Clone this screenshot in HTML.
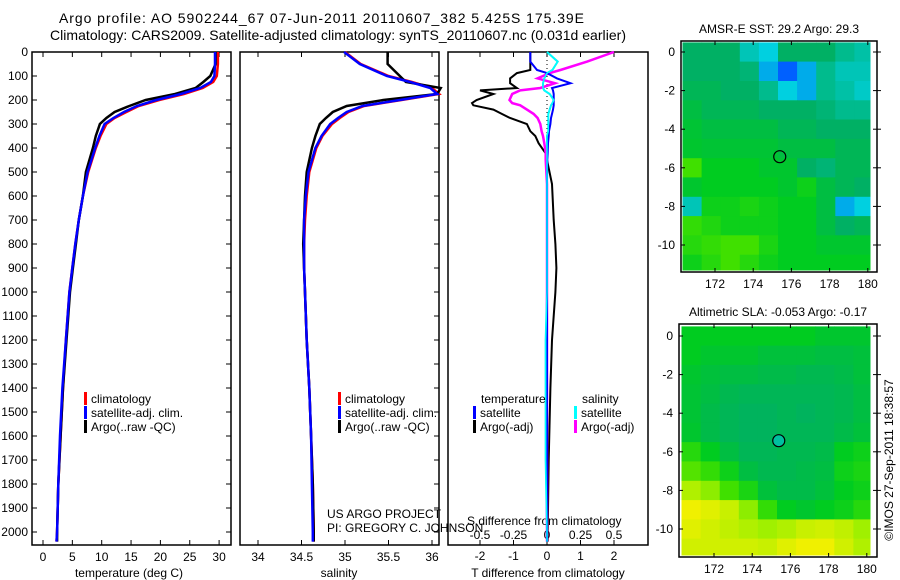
<!DOCTYPE html>
<html><head><meta charset="utf-8"><style>
html,body{margin:0;padding:0;background:#fff;}
svg{display:block;font-family:"Liberation Sans",sans-serif;}
</style></head><body>
<svg id="fig" width="900" height="580" viewBox="0 0 900 580" xmlns="http://www.w3.org/2000/svg">
<text x="59" y="23" font-size="14" textLength="525" lengthAdjust="spacing">Argo profile: AO 5902244_67 07-Jun-2011 20110607_382 5.425S 175.39E</text>
<text x="50" y="40" font-size="14" textLength="576" lengthAdjust="spacing">Climatology: CARS2009. Satellite-adjusted climatology: synTS_20110607.nc (0.031d earlier)</text>
<g id="g"></g>
</svg>
<script>
// ---- data ----
const depths   = [0,50,100,125,150,175,200,225,250,275,300,350,400,500,600,700,800,900,1000,1200,1400,1600,1800,2000,2040];
const tempClim = [29.8,29.8,29.6,29.0,27.2,24,19.8,16.3,14.2,12.2,10.8,9.8,9.0,7.7,6.8,6.1,5.5,5.0,4.5,3.9,3.4,3.0,2.6,2.4,2.3];
const tempSat  = [29.3,29.3,29.2,28.6,26.8,23.5,19.3,16.0,13.8,12.0,10.5,9.6,8.9,7.6,6.8,6.1,5.5,5.0,4.5,3.9,3.3,2.9,2.6,2.4,2.3];
const tempArgo = [29.4,29.4,28.5,27.3,26.0,22.5,17.5,14.7,12.2,10.8,9.7,9.0,8.5,7.3,6.8,6.1,5.6,5.1,4.6,4.0,3.4,3.0,2.6,2.4,2.4];
const salClim  = [35.0,35.18,35.5,35.77,36.0,36.08,35.65,35.22,35.04,34.94,34.85,34.74,34.67,34.59,34.56,34.54,34.53,34.53,34.54,34.56,34.59,34.61,34.63,34.64,34.64];
const salSat   = [34.99,35.17,35.48,35.75,35.98,36.06,35.63,35.2,35.02,34.92,34.83,34.73,34.66,34.58,34.55,34.53,34.53,34.53,34.54,34.56,34.59,34.61,34.62,34.63,34.63];
const salArgo  = [35.49,35.49,35.63,35.7,36.1,36.06,35.44,35.02,34.86,34.78,34.71,34.66,34.62,34.56,34.54,34.53,34.52,34.53,34.54,34.56,34.59,34.61,34.63,34.64,34.64];
const diffDepths = [0,40,75,88,110,130,150,160,175,200,213,222,240,258,275,300,330,350,380,420,450,550,700,800,900,1000,1200,1400,1700,2000,2040];
const dTempArgo = [-0.5,-0.5,-0.5,-0.9,-1.1,-1.1,-0.9,-2.0,-1.6,-2.1,-2.24,-2.2,-1.6,-1.35,-1.1,-0.6,-0.5,-0.35,-0.25,-0.05,0,0.15,0.2,0.25,0.28,0.25,0.15,0.1,0.05,0.02,0.02];
const dTempSat  = [-0.5,-0.5,-0.3,0,0.3,0.7,0.15,0.18,0.2,0.2,0.2,0.2,0.18,0.15,0.12,0.1,0.06,0.05,0.03,0.02,0.01,0,0,0,0,0,0,0,0,0,0];
const dSalArgo  = [0.5,0.3,0.1,0.02,-0.07,0.06,-0.05,-0.2,-0.26,-0.28,-0.26,-0.2,-0.15,-0.1,-0.07,-0.05,-0.04,-0.03,-0.02,-0.01,-0.01,0,0,0,0,0,0,0,0,0,0];
const dSalSat   = [0,0.08,0.04,0,-0.02,-0.03,-0.03,-0.02,0.02,0.05,0.04,0.03,0.02,0.01,0.01,0.01,0.01,0,0,0,0,0,0,0,0,0,-0.01,-0.01,-0.01,0,0];
const depthTicks = [0,100,200,300,400,500,600,700,800,900,1000,1100,1200,1300,1400,1500,1600,1700,1800,1900,2000];
const tempTicks = [0,5,10,15,20,25,30];
const salTicks = [34,34.5,35,35.5,36];
const salTickLabels = ["34","34.5","35","35.5","36"];
const tDiffTicks = [-2,-1,0,1,2];
const sDiffTicks = [-0.5,-0.25,0,0.25,0.5];
const sDiffTickLabels = ["-0.5","-0.25","0","0.25","0.5"];
const lonTicks = [172,174,176,178,180];
const latTicks = [0,-2,-4,-6,-8,-10];
const gridLons = [170.3,171.3,172.3,173.3,174.3,175.3,176.3,177.3,178.3,179.3];
const gridLats = [0.5,-0.5,-1.5,-2.5,-3.5,-4.5,-5.5,-6.5,-7.5,-8.5,-9.5,-10.5];
const sstGrid = [
[.5,.5,.5,.4,.35,.5,.5,.5,.45,.42],
[.5,.5,.5,.48,.3,.2,.3,.45,.4,.4],
[.52,.52,.5,.5,.45,.35,.3,.45,.42,.38],
[.55,.52,.52,.52,.5,.5,.5,.48,.45,.45],
[.57,.55,.55,.55,.55,.52,.52,.5,.5,.5],
[.58,.57,.57,.57,.57,.55,.55,.55,.52,.52],
[.7,.6,.6,.6,.58,.58,.5,.48,.52,.52],
[.58,.6,.6,.6,.6,.58,.62,.55,.52,.5],
[.4,.62,.62,.64,.62,.6,.6,.55,.3,.35],
[.68,.65,.62,.62,.62,.6,.6,.55,.5,.52],
[.66,.68,.7,.7,.64,.6,.6,.58,.58,.58],
[.62,.66,.7,.66,.62,.6,.6,.6,.6,.6]];
const slaGrid = [
[.6,.6,.6,.6,.6,.6,.6,.58,.58,.58],
[.6,.58,.58,.58,.56,.56,.56,.55,.55,.56],
[.58,.56,.55,.55,.54,.54,.53,.53,.54,.56],
[.57,.55,.53,.52,.52,.52,.52,.52,.53,.55],
[.57,.54,.52,.51,.51,.52,.51,.52,.53,.55],
[.58,.54,.52,.51,.51,.52,.52,.52,.54,.56],
[.66,.6,.55,.52,.52,.53,.53,.54,.6,.62],
[.72,.68,.62,.55,.53,.53,.54,.55,.62,.64],
[.82,.78,.7,.64,.56,.54,.54,.56,.6,.62],
[.9,.88,.85,.78,.68,.6,.58,.6,.62,.66],
[.88,.86,.84,.82,.8,.82,.85,.86,.84,.8],
[.86,.86,.86,.86,.85,.88,.9,.9,.86,.82]];
const argoLon = 175.39, argoLat = -5.425;

// ---- helpers ----
const NS="http://www.w3.org/2000/svg", G=document.getElementById('g');
function mk(tag,attrs,parent){const e=document.createElementNS(NS,tag);for(const k in attrs)e.setAttribute(k,attrs[k]);(parent||G).appendChild(e);return e;}
function txt(x,y,s,size,anchor,parent){const t=mk('text',{x:x,y:y,'font-size':size||12,'text-anchor':anchor||'start'},parent);t.textContent=s;return t;}
const Y0=52, yD=d=>Y0+d*0.24, BOT=545;
const xT=t=>43+t*5.87;
const xS=s=>258+(s-34)*87;
const xTd=v=>547+v*33.5;
const xSd=v=>547+v*134;
function line(xs,ys,fx,color,name,w){
  const pts=xs.map((v,i)=>fx(v).toFixed(1)+','+yD(ys[i]).toFixed(1)).join(' ');
  const p=mk('polyline',{points:pts,fill:'none',stroke:color,'stroke-width':w||2.5});
  
  
}
function frame(x1,x2,y1,y2,name){
  const r=mk('rect',{x:x1,y:y1,width:x2-x1,height:y2-y1,fill:'none',stroke:'#000','stroke-width':1.5});
  
  
}
function legendEntry(x,y,color,label){
  const g=mk('g',{});
  
  
  mk('rect',{x:x,y:y-11,width:3,height:13,fill:color},g);
  txt(x+7,y,label,12,'start',g);
}

// ---- panel 1: temperature ----
frame(32,231,Y0,BOT,'temperature-panel');
depthTicks.forEach(d=>{const y=yD(d);mk('line',{x1:32,x2:37,y1:y,y2:y,stroke:'#000'});mk('line',{x1:226,x2:231,y1:y,y2:y,stroke:'#000'});
  const t=txt(28,y+4,String(d),12,'end');});
tempTicks.forEach(v=>{const x=xT(v);mk('line',{x1:x,x2:x,y1:Y0,y2:Y0+5,stroke:'#000'});mk('line',{x1:x,x2:x,y1:BOT-5,y2:BOT,stroke:'#000'});
  const t=txt(x,561,String(v),12,'middle');});
let t1=txt(129,577,'temperature (deg C)',12,'middle');
line(tempClim,depths,xT,'#ff0000','temperature-climatology-line');
line(tempArgo,depths,xT,'#000000','temperature-argo-line');
line(tempSat,depths,xT,'#0000ff','temperature-satellite-line');
legendEntry(84,403,'#ff0000','climatology');
legendEntry(84,417,'#0000ff','satellite-adj. clim.');
legendEntry(84,431,'#000000','Argo(..raw -QC)');

// ---- panel 2: salinity ----
frame(240,439,Y0,BOT,'salinity-panel');
salTicks.forEach((v,i)=>{const x=xS(v);mk('line',{x1:x,x2:x,y1:Y0,y2:Y0+5,stroke:'#000'});mk('line',{x1:x,x2:x,y1:BOT-5,y2:BOT,stroke:'#000'});
  const t=txt(x,561,salTickLabels[i],12,'middle');});
depthTicks.forEach(d=>{const y=yD(d);mk('line',{x1:434,x2:439,y1:y,y2:y,stroke:'#000'});});
let t2=txt(339,577,'salinity',12,'middle');
line(salClim,depths,xS,'#ff0000','salinity-climatology-line');
line(salArgo,depths,xS,'#000000','salinity-argo-line');
line(salSat,depths,xS,'#0000ff','salinity-satellite-line');
legendEntry(338,403,'#ff0000','climatology');
legendEntry(338,417,'#0000ff','satellite-adj. clim.');
legendEntry(338,431,'#000000','Argo(..raw -QC)');
let c1=txt(327,518,'US ARGO PROJECT',12);
let c2=txt(327,532,'PI: GREGORY C. JOHNSON',12);

// ---- panel 3: differences ----
frame(448,648,Y0,BOT,'difference-panel');
mk('line',{x1:xTd(0),x2:xTd(0),y1:Y0,y2:BOT,stroke:'#000','stroke-dasharray':'1,3'});
tDiffTicks.forEach(v=>{const x=xTd(v);mk('line',{x1:x,x2:x,y1:Y0,y2:Y0+5,stroke:'#000'});mk('line',{x1:x,x2:x,y1:BOT-5,y2:BOT,stroke:'#000'});
  const t=txt(x,560,String(v),12,'middle');});
sDiffTicks.forEach((v,i)=>{const t=txt(xSd(v),539,sDiffTickLabels[i],12,'middle');});
let s1=txt(467,525,'S difference from climatology',12);
let s2=txt(548,577,'T difference from climatology',12,'middle');
line(dSalSat,diffDepths,xSd,'#00e5ee','salinity-satellite-diff-line',2);
line(dTempArgo,diffDepths,xTd,'#000000','temperature-argo-diff-line',2);
line(dSalArgo,diffDepths,xSd,'#ff00ff','salinity-argo-diff-line',2.5);
line(dTempSat,diffDepths,xTd,'#0000ff','temperature-satellite-diff-line',2);
line(dSalSat,diffDepths,xSd,'#00ffff','salinity-satellite-diff-line-top',1.5);
let l1=txt(481,403,'temperature',12);
let l2=txt(582,403,'salinity',12);
legendEntry(473,417,'#0000ff','satellite');
legendEntry(473,431,'#000000','Argo(-adj)');
legendEntry(574,417,'#00ffff','satellite');
legendEntry(574,431,'#ff00ff','Argo(-adj)');

// ---- maps ----
const stops=[[0,[0,0,192]],[0.2,[0,96,255]],[0.35,[0,208,224]],[0.5,[0,176,100]],[0.6,[0,204,32]],[0.7,[64,224,0]],[0.8,[160,240,0]],[0.9,[240,240,0]],[1,[255,208,0]]];
function cmap(v){for(let i=1;i<stops.length;i++){if(v<=stops[i][0]){const a=stops[i-1],b=stops[i],f=(v-a[0])/(b[0]-a[0]);
  return 'rgb('+a[1].map((c,k)=>Math.round(c+(b[1][k]-c)*f)).join(',')+')';}}return 'rgb(255,208,0)';}
function mapPanel(grid,fx,fy,fr,title,name,circleFill){
  const g=mk('g',{});
  
  
  grid.forEach((row,r)=>row.forEach((v,c)=>{
    const x1=fx(gridLons[c]),x2=fx(gridLons[c]+1),y1=fy(gridLats[r]),y2=fy(gridLats[r]-1);
    const cell=mk('rect',{x:x1.toFixed(1),y:Math.max(y1,fr[2]+1).toFixed(1),width:(Math.min(x2,fr[1]-7)-x1+0.5).toFixed(1),height:(Math.min(y2,fr[3]-2)-Math.max(y1,fr[2]+1)+0.5).toFixed(1),fill:cmap(v)},g);
    
    
  }));
  mk('rect',{x:fr[0],y:fr[2],width:fr[1]-fr[0],height:fr[3]-fr[2],fill:'none',stroke:'#000','stroke-width':1.5},g);
  lonTicks.forEach(v=>{const x=fx(v);mk('line',{x1:x,x2:x,y1:fr[2],y2:fr[2]+4,stroke:'#000'},g);mk('line',{x1:x,x2:x,y1:fr[3]-4,y2:fr[3],stroke:'#000'},g);
    const t=txt(x,fr[3]+16,String(v),12,'middle',g);});
  latTicks.forEach(v=>{const y=fy(v);mk('line',{x1:fr[0],x2:fr[0]+4,y1:y,y2:y,stroke:'#000'},g);mk('line',{x1:fr[1]-4,x2:fr[1]+4,y1:y,y2:y,stroke:'#000'},g);
    const t=txt(fr[0]-6,y+4,String(v),12,'end',g);});
  const c=mk('circle',{cx:fx(argoLon),cy:fy(argoLat),r:6,fill:circleFill,stroke:'#000','stroke-width':1.2},g);
  
  
  const tt=txt((fr[0]+fr[1])/2,fr[2]-8,title,12,'middle',g);
  
  
}
const topFx=lon=>715+(lon-172)*19.1, topFy=lat=>52-lat*19.3;
mapPanel(sstGrid,topFx,topFy,[681,877,41,272],'AMSR-E SST: 29.2 Argo: 29.3','sst-map','none');
const botFx=lon=>714+(lon-172)*19.1, botFy=lat=>336-lat*19.3;
mapPanel(slaGrid,botFx,botFy,[679,877,324,557],'Altimetric SLA: -0.053 Argo: -0.17','sla-map','#00c0a0');
const cp=txt(0,0,'©IMOS 27-Sep-2011 18:38:57',12,'middle');
cp.setAttribute('transform','translate(893,460) rotate(-90)');


</script>
</body></html>
